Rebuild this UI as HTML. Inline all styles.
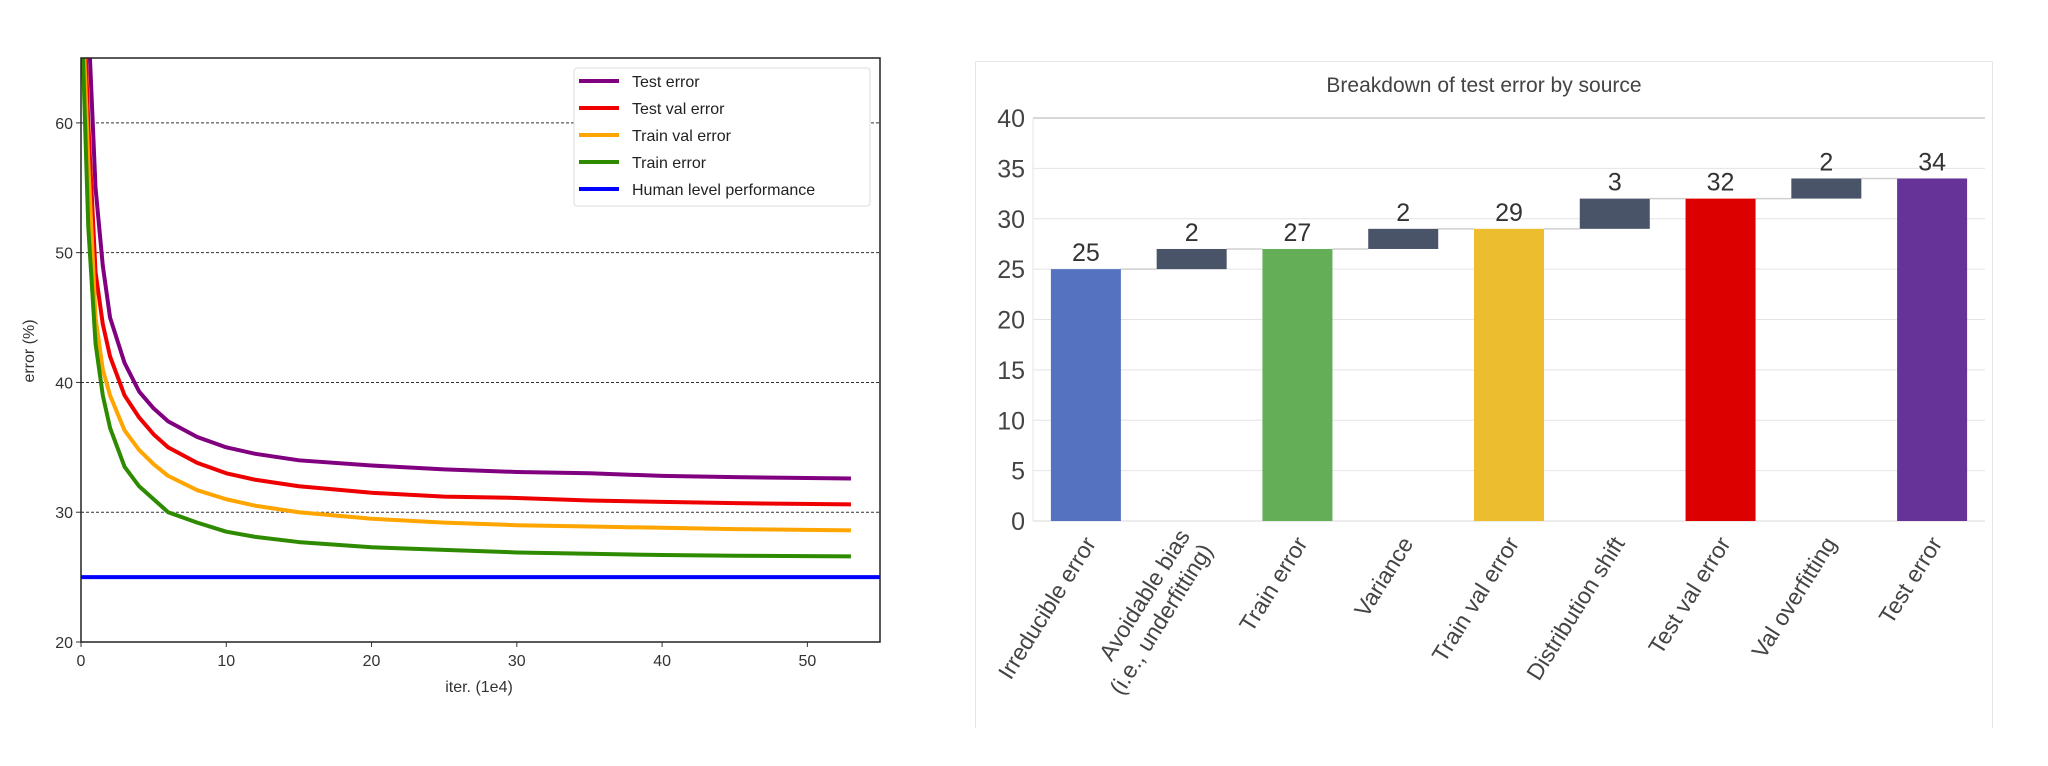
<!DOCTYPE html>
<html><head><meta charset="utf-8"><style>
html,body{margin:0;padding:0;background:#fff;}
svg{display:block;font-family:"Liberation Sans",sans-serif;}
</style></head><body>
<svg id="s" width="2048" height="766" viewBox="0 0 2048 766"></svg>
<script>
// ---- Left chart data ----
const iters=[0,0.5,1,1.5,2,3,4,5,6,8,10,12,15,20,25,30,35,40,45,53];
const testErr=[80,68,55,49,45,41.5,39.3,38,37,35.8,35,34.5,34,33.6,33.3,33.1,33,32.8,32.7,32.6];
const testValErr=[75,60,48.5,44.5,42,39,37.3,36,35,33.8,33,32.5,32,31.5,31.2,31.1,30.9,30.8,30.7,30.6];
const trainValErr=[72,57,45,41,39,36.3,34.8,33.7,32.8,31.7,31,30.5,30,29.5,29.2,29,28.9,28.8,28.7,28.6];
const trainErr=[70,52,43,39,36.5,33.5,32,31,30,29.2,28.5,28.1,27.7,27.3,27.1,26.9,26.8,26.7,26.65,26.6];
const humanLevel=25;
const leftYTicks=[20,30,40,50,60];
const leftXTicks=[0,10,20,30,40,50];
const seriesNames=["Test error","Test val error","Train val error","Train error","Human level performance"];
// ---- Right chart data ----
const cats=["Irreducible error","Avoidable bias|(i.e., underfitting)","Train error","Variance","Train val error","Distribution shift","Test val error","Val overfitting","Test error"];
const vals=[25,2,27,2,29,3,32,2,34];
const isTotal=[true,false,true,false,true,false,true,false,true];
const rightYTicks=[0,5,10,15,20,25,30,35,40];

const NS="http://www.w3.org/2000/svg";
const svg=document.getElementById('s');
function el(t,a,p){const e=document.createElementNS(NS,t);for(const k in a)e.setAttribute(k,a[k]);(p||svg).appendChild(e);return e;}

// Left axes
const L={x0:81,x1:880,y0:642,y1:58,xmin:0,xmax:55,ymin:20,ymax:65};
const lx=v=>L.x0+(v-L.xmin)/(L.xmax-L.xmin)*(L.x1-L.x0);
const ly=v=>L.y0-(v-L.ymin)/(L.ymax-L.ymin)*(L.y0-L.y1);
const lg=el('g',{});


el('defs',{},svg).innerHTML='<clipPath id="lc"><rect x="81" y="58" width="799" height="584"/></clipPath>';
leftYTicks.forEach(t=>{
  if(t>20){const g=el('line',{x1:L.x0,x2:L.x1,y1:ly(t),y2:ly(t),stroke:'#333','stroke-width':1,'stroke-dasharray':'3,2'},lg);
  
  }
  el('line',{x1:L.x0-5,x2:L.x0,y1:ly(t),y2:ly(t),stroke:'#333'},lg);
  const tx=el('text',{x:L.x0-8,y:ly(t)+6,'text-anchor':'end','font-size':16,fill:'#333'},lg);tx.textContent=t;
  
  
});
leftXTicks.forEach(t=>{
  el('line',{x1:lx(t),x2:lx(t),y1:L.y0,y2:L.y0+5,stroke:'#333'},lg);
  const tx=el('text',{x:lx(t),y:L.y0+24,'text-anchor':'middle','font-size':16,fill:'#333'},lg);tx.textContent=t;
  
  
});
const colors=['#800080','#ee0000','#ffa500','#2e8b00','#0000ff'];
const series=[testErr,testValErr,trainValErr,trainErr];
const cg=el('g',{'clip-path':'url(#lc)'},lg);
series.forEach((s,i)=>{
  const p=el('polyline',{points:s.map((v,j)=>lx(iters[j])+','+ly(v)).join(' '),fill:'none',stroke:colors[i],'stroke-width':4,'stroke-linejoin':'round'},cg);
  
  
});
const hl=el('line',{x1:L.x0,x2:L.x1,y1:ly(humanLevel),y2:ly(humanLevel),stroke:'#0000ff','stroke-width':4},cg);


const fr=el('rect',{x:L.x0,y:L.y1,width:L.x1-L.x0,height:L.y0-L.y1,fill:'none',stroke:'#222','stroke-width':1.5},lg);


const yt=el('text',{x:0,y:0,transform:'translate(34,351) rotate(-90)','text-anchor':'middle','font-size':16,fill:'#333'},lg);yt.textContent='error (%)';


const xt=el('text',{x:479,y:692,'text-anchor':'middle','font-size':16,fill:'#333'},lg);xt.textContent='iter. (1e4)';


// legend
const leg=el('g',{},lg);


el('rect',{x:574,y:68,width:296,height:138,fill:'#fff',stroke:'#ddd',rx:3},leg);
seriesNames.forEach((n,i)=>{
  const y=81+i*27;
  const e=el('g',{},leg);
  
  
  el('line',{x1:579,x2:619,y1:y,y2:y,stroke:colors[i],'stroke-width':4},e);
  const t=el('text',{x:632,y:y+6,'font-size':16,fill:'#222'},e);t.textContent=n;
});

// Right chart
const R={x0:1033,x1:1985,y0:521,y1:118,ymax:40};
const ry=v=>R.y0-v/R.ymax*(R.y0-R.y1);
const band=(R.x1-R.x0)/cats.length;
const bw=70;
const rg=el('g',{});


const pan=el('path',{d:'M975.5,728 V61.5 H1992.5 V728',fill:'#fff',stroke:'#e6e6e6'},rg);


const tt=el('text',{x:1484,y:92,'text-anchor':'middle','font-size':21,fill:'#444'},rg);tt.textContent='Breakdown of test error by source';


rightYTicks.forEach(t=>{
  const g=el('line',{x1:R.x0,x2:R.x1,y1:ry(t),y2:ry(t),stroke:t===0||t===40?'#d8d8d8':'#e4e4e4','stroke-width':t===40?2:1},rg);
  
  
  const tx=el('text',{x:1025,y:ry(t)+9,'text-anchor':'end','font-size':25,fill:'#444'},rg);tx.textContent=t;
  
  
});
el('line',{x1:R.x0,x2:R.x0,y1:R.y1,y2:R.y0,stroke:'#e4e4e4'},rg);
const barColors=['#5572c0','#4a5468','#63ae57','#4a5468','#ecbd2f','#4a5468','#dc0000','#4a5468','#663399'];
let cum=0;
cats.forEach((c,i)=>{
  const cx=R.x0+band*(i+0.5);
  let lo,hi;
  if(isTotal[i]){lo=0;hi=vals[i];cum=vals[i];}else{lo=cum;hi=cum+vals[i];cum=hi;}
  if(i<cats.length-1){
    const cl=el('line',{x1:cx+bw/2,x2:cx+band-bw/2,y1:ry(hi),y2:ry(hi),stroke:'#d0d0d0','stroke-width':1.5},rg);
    
    
  }
  const b=el('rect',{x:cx-bw/2,y:ry(hi),width:bw,height:ry(lo)-ry(hi),fill:barColors[i]},rg);
  
  
  const vl=el('text',{x:cx,y:ry(hi)-8,'text-anchor':'middle','font-size':25,fill:'#333'},rg);vl.textContent=vals[i];
  
  
  const parts=c.split('|');
  const lab=el('text',{x:0,y:0,transform:`translate(${cx+4},${R.y0+18}) rotate(-58)`,'text-anchor':'end','font-size':23,fill:'#444'},rg);
  
  
  parts.forEach((p,k)=>{const ts=el('tspan',{x:0,dy:k===0?(parts.length>1?-6:8):27},lab);ts.textContent=p;});
});
</script>
</body></html>
